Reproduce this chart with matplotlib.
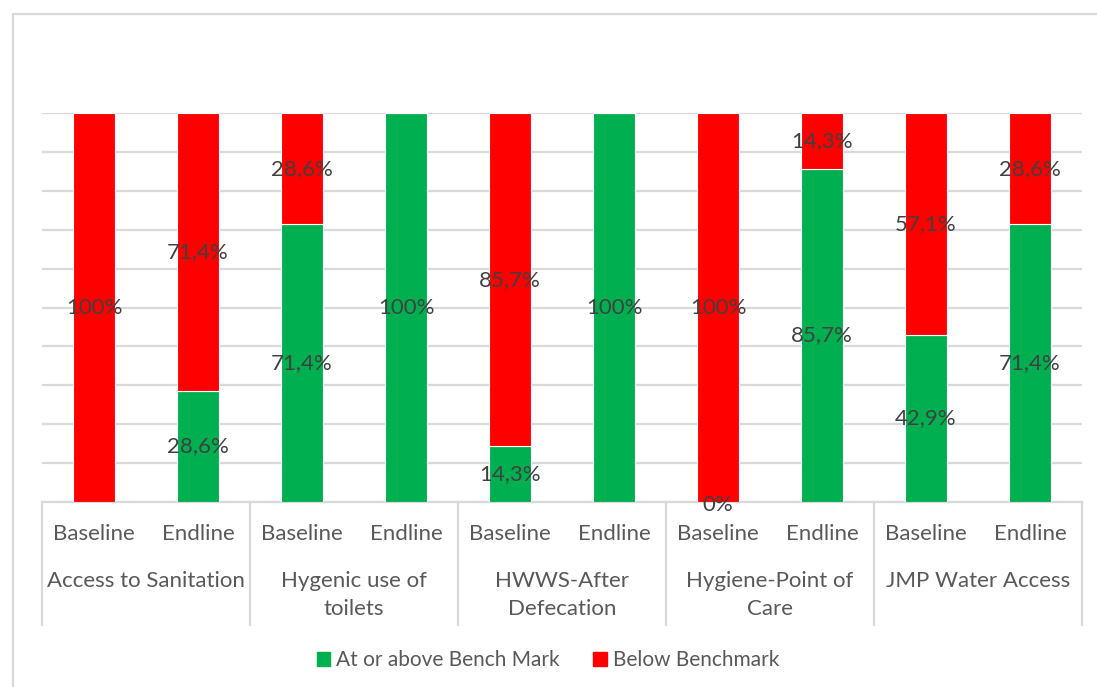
import matplotlib.pyplot as plt
from matplotlib.patches import Rectangle
from matplotlib.transforms import blended_transform_factory

# -----------------------------
# Data
# -----------------------------
groups = [
    "Access to Sanitation",
    "Hygenic use of\ntoilets",
    "HWWS-After\nDefecation",
    "Hygiene-Point of\nCare",
    "JMP Water Access",
]
phases = ["Baseline", "Endline"]

at_or_above = [0, 28.6, 71.4, 100, 14.3, 100, 0, 85.7, 42.9, 71.4]
below = [100, 71.4, 28.6, 0, 85.7, 0, 100, 14.3, 57.1, 28.6]

# which segments carry a data label
show_above = [False, True, True, True, True, True, True, True, True, True]
show_below = [True, True, True, False, True, False, True, True, True, True]

GREEN = "#00B050"
RED = "#FF0000"
GRID = "#D9D9D9"
LABEL = "#404040"
AXIS_TXT = "#595959"

plt.rcParams["font.family"] = ["Lato", "DejaVu Sans"]

if __name__ == "__main__":
    fig = plt.figure(figsize=(10.97, 6.87), dpi=100)
    W, H = 1097, 687
    ax = fig.add_axes([42 / W, 1 - 502 / H, (1082 - 42) / W, (502 - 113) / H])

    x = list(range(len(at_or_above)))
    ax.bar(x, at_or_above, width=0.4, color=GREEN, edgecolor="white",
           linewidth=0.8, zorder=3)
    ax.bar(x, below, width=0.4, bottom=at_or_above, color=RED,
           edgecolor="white", linewidth=0.8, zorder=3)

    # data labels centered in each segment
    def fmt(v):
        if v == 100 or v == 0:
            return f"{v:.0f}%"
        return f"{v:.1f}%".replace(".", ",")

    for i in x:
        if show_above[i]:
            # a zero segment gets its label just under the baseline
            y = at_or_above[i] / 2 if at_or_above[i] > 0 else -0.8
            ax.text(i, y, fmt(at_or_above[i]), ha="center",
                    va="center", fontsize=16, color=LABEL, zorder=4,
                    clip_on=False)
        if show_below[i]:
            ax.text(i, at_or_above[i] + below[i] / 2, fmt(below[i]),
                    ha="center", va="center", fontsize=16, color=LABEL,
                    zorder=4)

    ax.set_xlim(-0.5, len(x) - 0.5)
    ax.set_ylim(0, 100)
    ax.set_yticks(range(0, 101, 10))
    ax.yaxis.grid(True, color=GRID, linewidth=1.6, zorder=0)
    ax.tick_params(left=False, labelleft=False, bottom=False, labelbottom=False)
    for side in ["left", "right", "top"]:
        ax.spines[side].set_visible(False)
    ax.spines["bottom"].set_color(GRID)
    ax.spines["bottom"].set_linewidth(1.6)

    # multi-level category axis
    trans = blended_transform_factory(ax.transData, ax.transAxes)
    depth = -(625 - 502) / (502 - 113)
    for g in range(len(groups) + 1):
        ax.plot([2 * g - 0.5, 2 * g - 0.5], [0, depth], transform=trans,
                color=GRID, linewidth=1.6, clip_on=False)
    for i in x:
        ax.text(i, -(534 - 502) / (502 - 113), phases[i % 2], transform=trans,
                ha="center", va="center", fontsize=16, color=AXIS_TXT)
    for g, name in enumerate(groups):
        ax.text(2 * g + 0.5, -(571 - 502) / (502 - 113), name, transform=trans,
                ha="center", va="top", fontsize=16, color=AXIS_TXT,
                linespacing=1.5)

    # legend
    handles = [Rectangle((0, 0), 1, 1, color=GREEN),
               Rectangle((0, 0), 1, 1, color=RED)]
    fig.legend(handles, ["At or above Bench Mark", "Below Benchmark"],
               loc="center", bbox_to_anchor=(548 / W, 1 - 660 / H), ncol=2,
               frameon=False, fontsize=15, labelcolor=AXIS_TXT,
               handlelength=0.65, handleheight=0.65, handletextpad=0.3,
               columnspacing=1.6)

    # chart area border
    fig.patches.append(Rectangle((13 / W, -0.05), 1.1, 1 - 14 / H + 0.05,
                                 transform=fig.transFigure, fill=False,
                                 edgecolor=GRID, linewidth=1.6))

    fig.savefig("out.png", dpi=100)
